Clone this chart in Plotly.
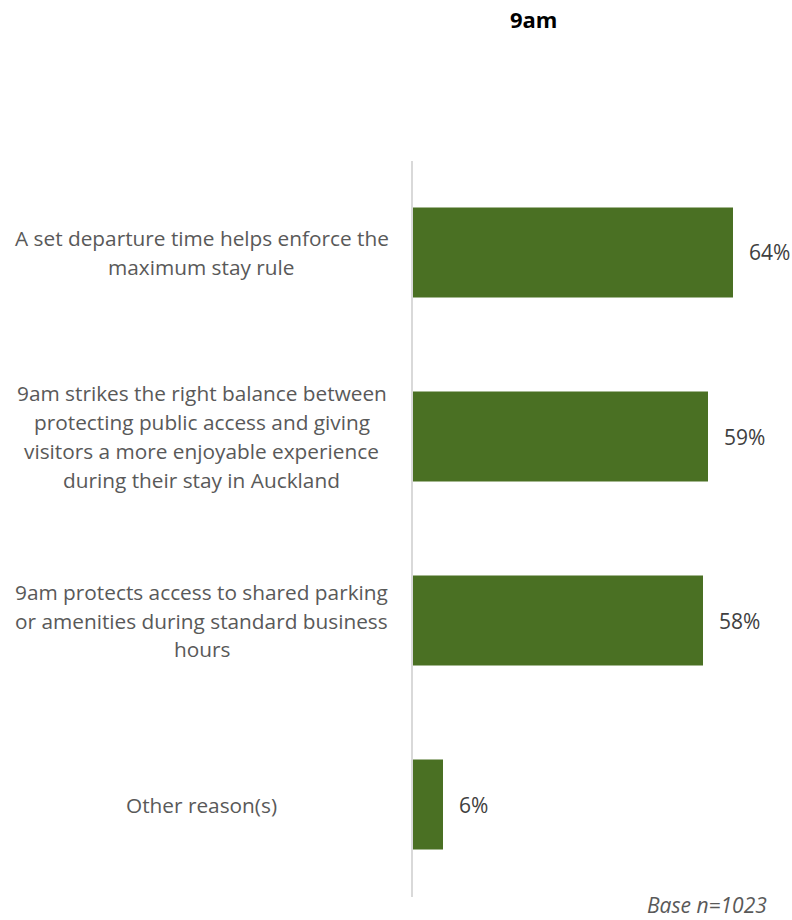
import plotly.graph_objects as go

categories = [
    "A set departure time helps enforce the<br>maximum stay rule",
    "9am strikes the right balance between<br>protecting public access and giving<br>visitors a more enjoyable experience<br>during their stay in Auckland",
    "9am protects access to shared parking<br>or amenities during standard business<br>hours",
    "Other reason(s)",
]
values = [64, 59, 58, 6]
value_labels = ["64%", "59%", "58%", "6%"]
title_text = "9am"
base_text = "Base n=1023"

W, H = 792, 920
BAR_COLOR = "#4A7023"
LABEL_COLOR = "#595959"
VALUE_COLOR = "#404040"
FONT = "Open Sans"


def px_x(p):
    return p / W


def px_y(p):
    return 1 - p / H


fig = go.Figure()
fig.add_trace(go.Bar(
    x=values, y=categories, orientation="h",
    marker=dict(color=BAR_COLOR, line=dict(width=0)),
    hoverinfo="skip", showlegend=False,
))

annotations = []
line_gap = 28.8
for cat in categories:
    lines = cat.split("<br>")
    n = len(lines)
    for i, ln in enumerate(lines):
        annotations.append(dict(
            x=px_x(202), xref="paper", y=cat, yref="y",
            text=ln, showarrow=False, xanchor="center", yanchor="middle",
            yshift=((n - 1) / 2 - i) * line_gap,
            font=dict(family=FONT, size=20.8, color=LABEL_COLOR),
        ))

for cat, v, lab in zip(categories, values, value_labels):
    annotations.append(dict(
        x=v, xref="x", y=cat, yref="y", text=lab, showarrow=False,
        xanchor="left", yanchor="middle", xshift=14,
        font=dict(family=FONT, size=21, color=VALUE_COLOR),
    ))

annotations.append(dict(
    x=px_x(533), xref="paper", y=px_y(19), yref="paper",
    text="<b>" + title_text + "</b>", showarrow=False,
    xanchor="center", yanchor="middle",
    font=dict(family=FONT, size=22, color="#000000"),
))
annotations.append(dict(
    x=px_x(768), xref="paper", y=px_y(905), yref="paper",
    text="<i>" + base_text + "</i>", showarrow=False,
    xanchor="right", yanchor="middle", borderpad=0,
    font=dict(family=FONT, size=21, color=LABEL_COLOR),
))

fig.update_layout(
    width=W, height=H,
    margin=dict(l=0, r=0, t=0, b=0),
    paper_bgcolor="white", plot_bgcolor="white",
    bargap=1 - 90 / 184,
    annotations=annotations,
    xaxis=dict(range=[0, 70], domain=[px_x(413), px_x(763)],
               showgrid=False, zeroline=False, showticklabels=False,
               showline=False, ticks=""),
    yaxis=dict(autorange="reversed", domain=[px_y(896.5), px_y(160.5)],
               showgrid=False, zeroline=False, showticklabels=False,
               showline=True, linecolor="#D9D9D9", linewidth=2, ticks=""),
)

fig.write_html(
    "out.html",
    config={"displayModeBar": False},
    post_script="document.body.style.margin='0';document.body.style.overflow='hidden';",
)
